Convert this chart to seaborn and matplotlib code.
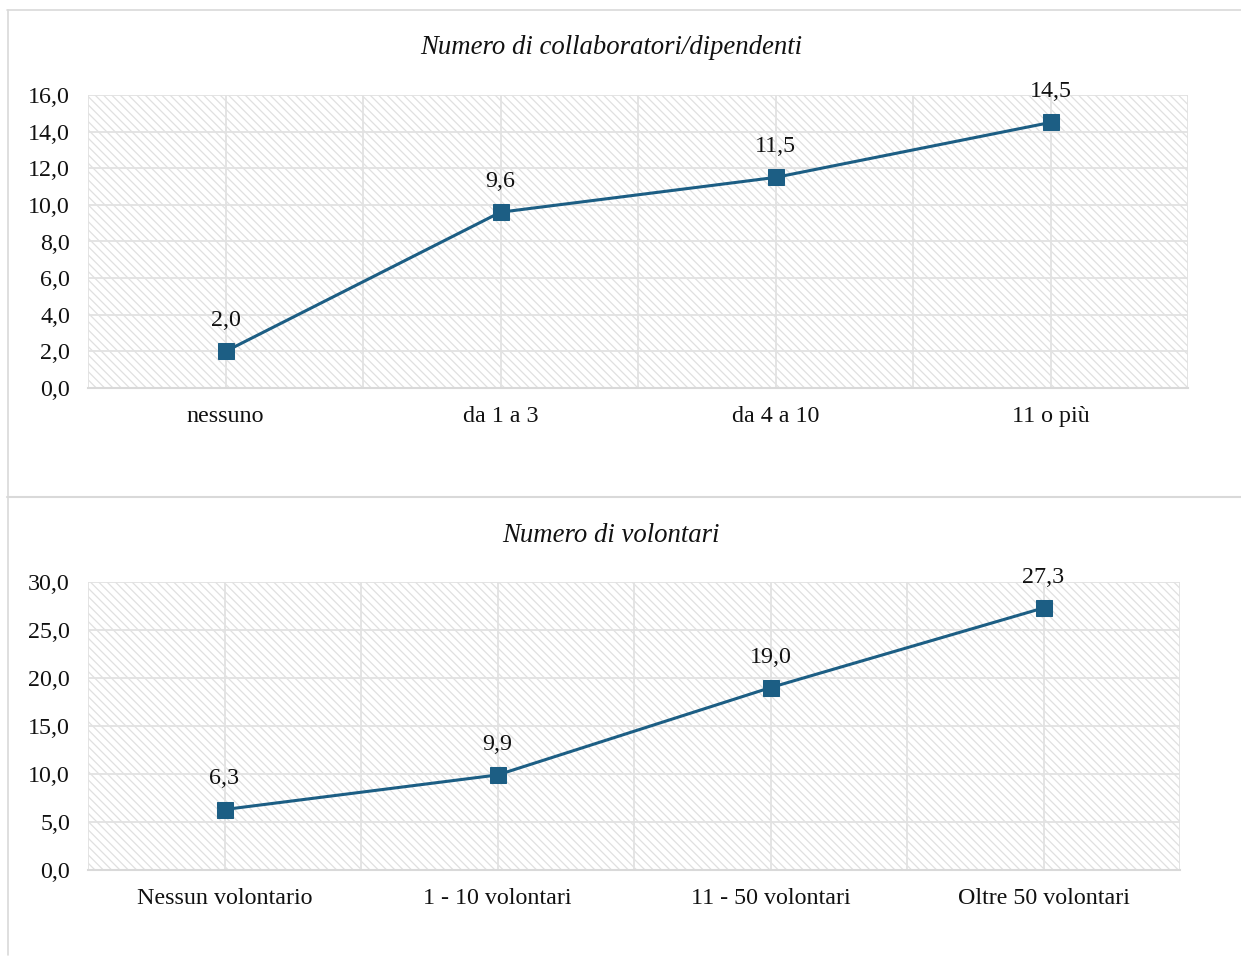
import numpy as np
import pandas as pd
import seaborn as sns
import matplotlib.pyplot as plt
from matplotlib.patches import Rectangle
from matplotlib.lines import Line2D
from matplotlib.ticker import FuncFormatter

# dati
cat_collab = ["nessuno", "da 1 a 3", "da 4 a 10", "11 o più"]
val_collab = [2.0, 9.6, 11.5, 14.5]
cat_volont = ["Nessun volontario", "1 - 10 volontari", "11 - 50 volontari", "Oltre 50 volontari"]
val_volont = [6.3, 9.9, 19.0, 27.3]

title_collab = "Numero di collaboratori/dipendenti"
title_volont = "Numero di volontari"

LINE_COLOR = "#1c5e84"
GRID_COLOR = "#e2e2e2"
HATCH_COLOR = "#e0e0e0"
FS = 17.3

sns.set_theme(style="white")
plt.rcParams["font.family"] = ["Liberation Serif", "DejaVu Serif"]
plt.rcParams["hatch.linewidth"] = 0.9

fig = plt.figure(figsize=(12.41, 9.71), dpi=100)

# cornici del documento
fig.add_artist(Line2D([7 / 1241, 1], [1 - 10 / 971, 1 - 10 / 971], color="#d9d9d9", lw=1.2))
fig.add_artist(Line2D([7 / 1241, 1], [1 - 497 / 971, 1 - 497 / 971], color="#d9d9d9", lw=1.5))
fig.add_artist(Line2D([8 / 1241, 8 / 1241], [1 - 10 / 971, 1 - 955 / 971], color="#d9d9d9", lw=1.2))


def fmt(v, pos=None):
    return f"{v:.1f}".replace(".", ",")


def draw_panel(rect, cats, vals, ymax, step, title, title_y):
    ax = fig.add_axes(rect)
    ax.set_facecolor("white")
    ax.add_patch(Rectangle((0, 0), 1, 1, transform=ax.transAxes, facecolor="white",
                           edgecolor=HATCH_COLOR, hatch="\\\\\\\\", lw=0, zorder=0))
    df = pd.DataFrame({"cat": cats, "val": vals})
    sns.lineplot(data=df, x="cat", y="val", ax=ax, color=LINE_COLOR, lw=2.2,
                 marker="s", markersize=12, markeredgecolor=LINE_COLOR, zorder=5, sort=False)
    ax.set_xlim(-0.5, len(cats) - 0.5)
    ax.set_ylim(0, ymax)
    ax.set_yticks(np.arange(0, ymax + step / 2, step))
    ax.yaxis.set_major_formatter(FuncFormatter(fmt))
    for yv in np.arange(0, ymax + step / 2, step):
        ax.axhline(yv, color=GRID_COLOR, lw=1.3, zorder=1)
    for xv in np.arange(-0.5, len(cats) - 0.25, 0.5):
        ax.axvline(xv, color=GRID_COLOR, lw=1.3, zorder=1)
    for i, v in enumerate(vals):
        ax.annotate(fmt(v), (i, v), xytext=(0, 22), textcoords="offset points",
                    ha="center", va="center", fontsize=FS, color="#111111", zorder=6)
    ax.set_xlabel("")
    ax.set_ylabel("")
    ax.tick_params(axis="both", length=0, labelsize=FS, colors="#111111")
    ax.tick_params(axis="x", pad=13)
    ax.tick_params(axis="y", pad=13)
    for s in ax.spines.values():
        s.set_visible(False)
    ax.spines["bottom"].set_visible(True)
    ax.spines["bottom"].set_color("#d9d9d9")
    ax.spines["bottom"].set_linewidth(1.5)
    fig.text(611 / 1241, title_y, title, ha="center", va="center",
             fontsize=19.3, style="italic", color="#111111")
    return ax


draw_panel([88 / 1241, 1 - 388 / 971, 1100 / 1241, 293 / 971], cat_collab, val_collab,
           16, 2, title_collab, 1 - 48 / 971)
draw_panel([88 / 1241, 1 - 870 / 971, 1092 / 1241, 288 / 971], cat_volont, val_volont,
           30, 5, title_volont, 1 - 536 / 971)

fig.savefig("out.png", dpi=100)
